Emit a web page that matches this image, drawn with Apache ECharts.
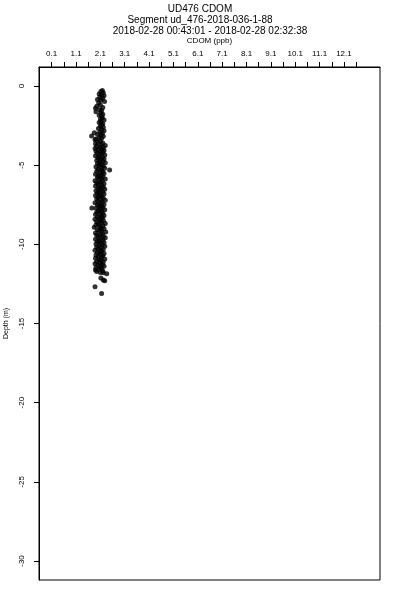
<!DOCTYPE html>
<html>
<head>
<meta charset="utf-8">
<script src="https://cdn.jsdelivr.net/npm/echarts@6/dist/echarts.min.js"></script>
<style>html,body{margin:0;padding:0;background:#fff;}#c{width:400px;height:600px;}</style>
</head>
<body>
<div id="c"></div>
<script>
const titleLines = ["UD476 CDOM", "Segment ud_476-2018-036-1-88", "2018-02-28 00:43:01 - 2018-02-28 02:32:38"];
const xName = "CDOM (ppb)";
const yName = "Depth (m)";
const xLabelValues = [0.1, 1.1, 2.1, 3.1, 4.1, 5.1, 6.1, 7.1, 8.1, 9.1, 10.1, 11.1, 12.1];
const xTickValues = [0.1, 0.6, 1.1, 1.6, 2.1, 2.6, 3.1, 3.6, 4.1, 4.6, 5.1, 5.6, 6.1, 6.6, 7.1, 7.6, 8.1, 8.6, 9.1, 9.6, 10.1, 10.6, 11.1, 11.6, 12.1, 12.6];
const yTickValues = [-30, -25, -20, -15, -10, -5, 0];

const depth = [
-0.28,-0.35,-0.42,-0.5,-0.55,-0.62,-0.7,-0.78,-0.85,-0.9,-0.98,-1.05,
-1.2,-1.28,-1.35,-1.4,-1.5,-1.55,-1.62,-1.7,-1.78,-1.85,-1.9,-2.0,-2.08,-2.15,-2.22,-2.3,-2.38,-2.45,
-2.52,-2.6,-2.68,-2.75,-2.82,-2.9,-2.95,-3.0,-3.05,-3.1,-3.16,-3.18,-3.25,-3.3,-3.35,-3.4,-3.48,
-3.55,-3.6,-3.65,-3.7,-3.75,-3.8,-3.85,-3.9,-3.95,-4.0,-4.02,-4.08,-4.12,-4.15,-4.2,-4.25,-4.3,-4.35,-4.4,-4.45,-4.5,-4.55,-4.6,-4.65,-4.7,-4.75,-4.8,-4.85,-4.9,-4.95,
-5.0,-5.05,-5.1,-5.15,-5.2,-5.25,-5.3,-5.32,-5.38,-5.42,-5.48,-5.52,-5.58,-5.62,-5.68,-5.72,-5.78,-5.82,-5.88,-5.92,-5.98,-6.02,-6.08,-6.12,-6.18,-6.22,-6.28,-6.32,-6.38,-6.42,
-6.48,-6.52,-6.58,-6.62,-6.68,-6.72,-6.78,-6.82,-6.88,-6.92,-6.98,-7.02,-7.08,-7.12,-7.18,-7.22,-7.28,-7.32,-7.38,-7.42,-7.48,-7.52,-7.58,-7.62,-7.7,-7.68,-7.72,-7.78,-7.82,-7.88,-7.92,-7.98,
-8.02,-8.08,-8.12,-8.18,-8.22,-8.28,-8.32,-8.38,-8.42,-8.48,-8.52,-8.58,-8.62,-8.68,-8.72,-8.78,-8.82,-8.88,-8.92,-8.98,-9.02,-9.08,-9.12,-9.18,-9.22,-9.28,-9.32,-9.38,-9.42,-9.48,-9.52,-9.58,-9.62,-9.68,-9.72,-9.78,-9.82,-9.88,-9.92,-9.98,
-10.02,-10.08,-10.12,-10.18,-10.22,-10.28,-10.32,-10.38,-10.42,-10.48,-10.52,-10.58,-10.62,-10.68,-10.72,-10.78,-10.82,-10.88,-10.92,-10.98,-11.02,-11.08,-11.12,-11.18,-11.22,-11.28,-11.32,-11.38,-11.42,-11.48,-11.52,-11.58,-11.62,-11.68,
-11.72,-11.78,-11.8,-11.86,-12.12,-12.25,-12.3,-12.68,-13.1
];
const cdom = [
2.18,2.12,2.22,2.05,2.15,2.25,2.08,2.19,1.98,2.12,2.27,2.03,
2.1,1.95,2.2,1.9,2.08,2.15,1.92,2.12,2.2,2.05,2.15,2.18,2.1,2.25,2.12,2.05,2.2,2.15,
2.1,2.22,2.02,2.15,2.25,2.08,1.85,2.18,1.98,2.12,1.74,2.22,2.05,2.15,1.92,1.88,2.1,
2.0,2.2,1.9,2.12,2.3,1.95,2.08,2.22,1.88,2.15,2.02,2.25,1.92,2.1,2.2,1.98,2.12,2.28,1.9,2.05,2.18,2.0,2.25,2.1,1.95,2.2,2.08,2.3,1.98,2.15,
2.05,2.22,1.92,2.12,2.28,2.0,2.48,2.15,1.95,2.2,2.08,2.25,1.9,2.12,2.02,2.2,1.98,2.15,2.3,2.05,1.88,2.18,2.1,1.95,2.25,2.02,2.15,1.9,2.22,2.08,
2.0,2.28,2.12,1.92,2.2,2.05,1.98,2.25,2.1,1.9,2.15,2.02,2.22,1.95,2.12,2.3,2.0,2.18,1.88,2.08,2.25,1.98,2.15,2.05,1.75,2.2,1.92,2.1,2.28,2.02,2.15,1.95,
2.2,2.08,1.9,2.25,2.12,1.98,2.18,2.05,1.88,2.22,2.1,1.95,2.15,2.3,2.02,1.92,2.2,2.08,1.85,2.12,2.25,1.98,2.15,2.05,2.32,1.9,2.18,2.1,1.95,2.22,2.02,2.3,2.12,1.9,2.2,2.05,1.98,2.25,2.1,1.92,
2.18,2.05,2.28,1.95,2.12,2.02,2.22,1.88,2.15,2.08,1.98,2.25,2.1,1.92,2.2,2.02,2.15,1.9,2.28,2.05,2.12,1.95,2.22,2.08,1.88,2.18,2.0,2.25,2.1,1.92,2.15,2.05,1.9,2.2,
1.95,2.1,2.22,2.36,2.12,2.22,2.28,1.88,2.15
];

const points = depth.map((d, i) => [cdom[i], d]);
const font = "'Liberation Sans', Arial, sans-serif";

const chart = echarts.init(document.getElementById('c'), null, {renderer: 'canvas'});
chart.setOption({
  animation: false,
  backgroundColor: '#fff',
  title: titleLines.map((t, i) => ({
    text: t,
    left: i === 2 ? 210 : 200,
    top: 4 + i * 11,
    padding: 0,
    textAlign: 'center',
    textStyle: {fontFamily: font, fontSize: 10, fontWeight: 'normal', color: '#000'}
  })),
  grid: {left: 39, top: 67, width: 341, height: 513, show: true, borderColor: '#000', borderWidth: 1,
    backgroundColor: 'transparent', containLabel: false, outerBoundsMode: 'none'},
  xAxis: {
    type: 'value', position: 'top', min: -0.42, max: 13.58,
    name: xName, nameLocation: 'middle', nameGap: 22,
    nameTextStyle: {fontFamily: font, fontSize: 8, color: '#000'},
    axisLine: {show: true, onZero: false, lineStyle: {color: '#000', width: 1}},
    axisTick: {show: true, inside: false, length: 5, customValues: xTickValues, lineStyle: {color: '#000'}},
    axisLabel: {show: true, customValues: xLabelValues, margin: 9, fontFamily: font, fontSize: 8, color: '#000',
      formatter: v => v.toFixed(1)},
    splitLine: {show: false}
  },
  yAxis: {
    type: 'value', min: -31.2, max: 1.2,
    name: yName, nameLocation: 'middle', nameGap: 29, nameRotate: 90,
    nameTextStyle: {fontFamily: font, fontSize: 7, color: '#000'},
    axisLine: {show: true, onZero: false, lineStyle: {color: '#000', width: 1}},
    axisTick: {show: true, inside: false, length: 5, customValues: yTickValues, lineStyle: {color: '#000'}},
    axisLabel: {show: true, customValues: yTickValues, rotate: 90, margin: 13, fontFamily: font, fontSize: 8, color: '#000'},
    splitLine: {show: false}
  },
  series: [{
    type: 'scatter', data: points, symbol: 'circle', symbolSize: 5,
    itemStyle: {color: '#000'}, silent: true
  }]
});
</script>
</body>
</html>
